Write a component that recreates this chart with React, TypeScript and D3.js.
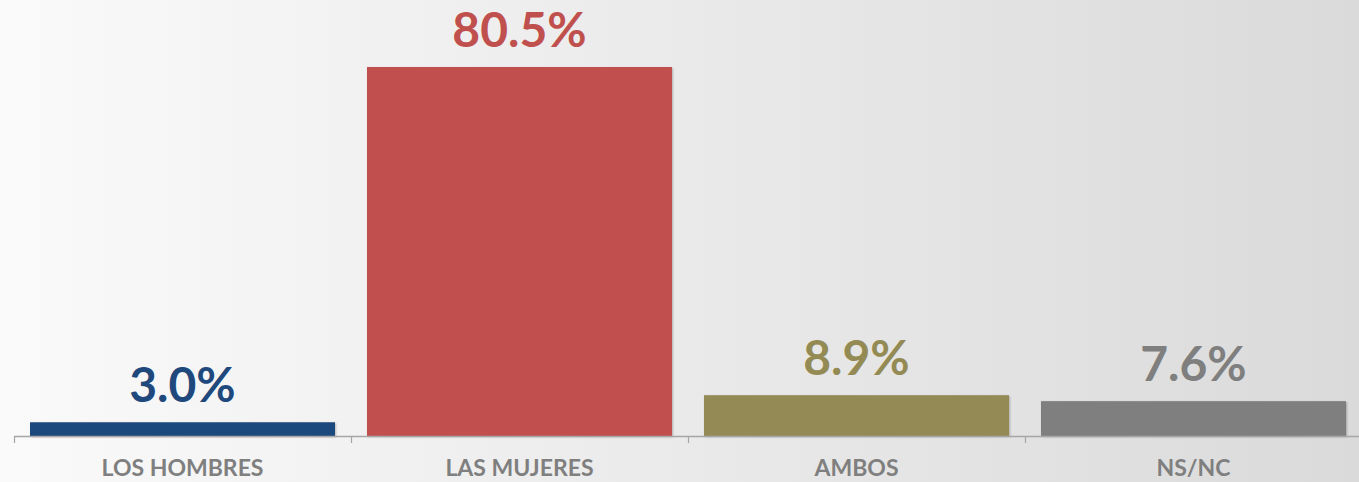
import React from "react";
import * as d3 from "d3";

const categories = ["LOS HOMBRES", "LAS MUJERES", "AMBOS", "NS/NC"];
const values = [3.0, 80.5, 8.9, 7.6];
const colors = ["#1f497d", "#c0504d", "#948a54", "#7f7f7f"];

const W = 1359;
const H = 482;
const baseY = 436;
const FONT = "Lato, 'Open Sans', sans-serif";

export default function App() {
  const x = d3.scaleBand<string>().domain(categories).range([14, 14 + 4 * 337]).paddingInner(0.095).paddingOuter(0.0475);
  const y = d3.scaleLinear().domain([0, 80.5]).range([baseY, 67]);
  const step = x.step();
  const ticks = d3.range(categories.length + 1).map((i) => 14 + i * step);
  return (
    <svg width={W} height={H} style={{ position: "fixed", left: 0, top: 0 }}>
      <defs>
        <linearGradient id="bg" x1="0" y1="0" x2="1" y2="0">
          <stop offset="0" stopColor="#fafafa" />
          <stop offset="1" stopColor="#dadada" />
        </linearGradient>
        <filter id="sh" x="-5%" y="-5%" width="110%" height="120%">
          <feDropShadow dx="1" dy="1" stdDeviation="1.2" floodColor="#000" floodOpacity="0.25" />
        </filter>
      </defs>
      <rect x={0} y={0} width={W} height={H} fill="url(#bg)" />
      {categories.map((c, i) => (
        <rect key={c} x={x(c)} y={y(values[i])} width={x.bandwidth()} height={baseY - y(values[i])} fill={colors[i]} filter="url(#sh)" />
      ))}
      <line x1={14} x2={W} y1={baseY + 0.5} y2={baseY + 0.5} stroke="#a6a6a6" strokeWidth={1.5} />
      {ticks.map((t, i) => (
        <line key={i} x1={Math.round(t) + 0.5} x2={Math.round(t) + 0.5} y1={baseY} y2={baseY + 7} stroke="#a6a6a6" strokeWidth={1.2} />
      ))}
      {categories.map((c, i) => (
        <text key={c} x={(x(c) as number) + x.bandwidth() / 2} y={y(values[i]) - 20} textAnchor="middle" fill={colors[i]} fontFamily={FONT} fontWeight="bold" fontSize={48}>
          {values[i].toFixed(1) + "%"}
        </text>
      ))}
      {categories.map((c) => (
        <text key={c} x={(x(c) as number) + x.bandwidth() / 2} y={476} textAnchor="middle" fill="#7f7f7f" fontFamily={FONT} fontWeight="bold" fontSize={23}>
          {c}
        </text>
      ))}
    </svg>
  );
}
